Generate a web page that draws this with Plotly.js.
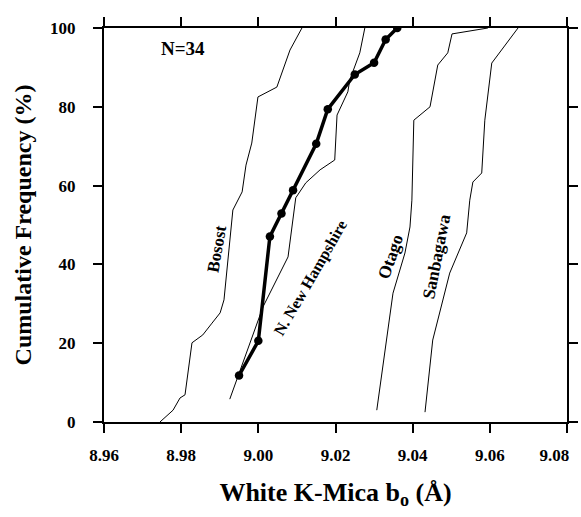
<!DOCTYPE html>
<html>
<head>
<meta charset="utf-8">
<script src="https://cdn.plot.ly/plotly-3.0.1.min.js"></script>
<style>html,body{margin:0;padding:0;background:#fff;}#chart{width:581px;height:517px;}</style>
</head>
<body>
<div id="chart"></div>
<script>
// Measured sample (thick line with markers), N=34
const sampleX = [8.995, 9.000, 9.003, 9.006, 9.009, 9.015, 9.018, 9.025, 9.030, 9.033, 9.036];
const sampleY = [11.8, 20.6, 47.1, 52.9, 58.8, 70.6, 79.4, 88.2, 91.2, 97.1, 100];

// Reference curves (thin lines)
const bosostX = [8.9745, 8.9779, 8.9797, 8.9810, 8.9828, 8.9856, 8.9880, 8.9901, 8.9911, 8.9934, 8.9958, 8.9968, 8.9983, 8.9999, 9.0048, 9.0082, 9.0113];
const bosostY = [0, 3.0, 6.1, 6.9, 20.1, 22.1, 25.1, 27.7, 31.0, 53.8, 58.4, 65.2, 70.8, 82.5, 85.0, 94.4, 100];

const nhX = [8.9926, 9.0012, 9.0077, 9.0097, 9.0123, 9.0160, 9.0198, 9.0204, 9.0232, 9.0237, 9.0263, 9.0276];
const nhY = [5.8, 29.2, 41.9, 56.9, 60.7, 64.0, 66.5, 77.9, 83.8, 86.8, 93.7, 100];

const otagoX = [9.0307, 9.0349, 9.0380, 9.0393, 9.0398, 9.0403, 9.0445, 9.0465, 9.0491, 9.0502, 9.0595];
const otagoY = [3.0, 32.7, 42.9, 49.5, 56.3, 76.6, 80.0, 90.6, 93.7, 98.5, 100];

const sanbX = [9.0432, 9.0452, 9.0496, 9.0540, 9.0548, 9.0556, 9.0579, 9.0587, 9.0605, 9.0644, 9.0673];
const sanbY = [2.5, 20.8, 37.8, 48.0, 56.3, 60.9, 63.2, 76.6, 91.1, 96.2, 100];

// Curve labels
const labelText = ["Bosost", "N. New Hampshire", "Otago", "Sanbagawa"];
const labelX = [8.9893, 9.0136, 9.0341, 9.0460];
const labelY = [44, 36.5, 42, 42];
const labelAngle = [-80, -60, -71, -79];
const labelSize = [17, 16, 17.5, 17.5];

const xTicks = [8.96, 8.98, 9.00, 9.02, 9.04, 9.06, 9.08];
const xTickText = ["8.96", "8.98", "9.00", "9.02", "9.04", "9.06", "9.08"];
const yTicks = [0, 20, 40, 60, 80, 100];
const yTickText = ["0", "20", "40", "60", "80", "100"];

const FONT = "'Liberation Serif', 'Times New Roman', serif";
const NB = '\u00a0';

const thin = {color: '#000', width: 1};
const traces = [
  {x: bosostX, y: bosostY, mode: 'lines', line: thin, hoverinfo: 'skip'},
  {x: nhX, y: nhY, mode: 'lines', line: thin, hoverinfo: 'skip'},
  {x: otagoX, y: otagoY, mode: 'lines', line: thin, hoverinfo: 'skip'},
  {x: sanbX, y: sanbY, mode: 'lines', line: thin, hoverinfo: 'skip'},
  {x: sampleX, y: sampleY, mode: 'lines+markers', line: {color: '#000', width: 3.5},
   marker: {color: '#000', size: 8.5}}
];

const annotations = labelText.map((t, i) => ({
  x: labelX[i], y: labelY[i], xref: 'x', yref: 'y', text: '<b>' + t + '</b>',
  textangle: labelAngle[i], showarrow: false, xanchor: 'center', yanchor: 'middle',
  font: {family: FONT, size: labelSize[i], color: '#000'}
}));
annotations.push({
  xref: 'paper', yref: 'paper', x: 0.171, y: 0.947, xanchor: 'center', yanchor: 'middle',
  text: '<b>N=34</b>', showarrow: false,
  font: {family: FONT, size: 19, color: '#000'}
});

const axisCommon = {
  showgrid: false, zeroline: false, showline: true, linecolor: '#000', linewidth: 2,
  mirror: 'ticks', ticks: 'outside', ticklen: 9, tickwidth: 2, tickcolor: '#000',
  tickfont: {family: FONT, size: 17, color: '#000'}, ticklabeloverflow: 'allow'
};

const layout = {
  width: 581, height: 517,
  margin: {l: 104, r: 14, t: 28, b: 95},
  paper_bgcolor: '#fff', plot_bgcolor: '#fff',
  showlegend: false,
  font: {family: FONT, color: '#000'},
  xaxis: Object.assign({}, axisCommon, {
    range: [8.96, 9.08], tickvals: xTicks,
    ticktext: xTickText.map((s, i) => '<b>' + s + '</b>' + (i === xTickText.length - 1 ? NB.repeat(6) : '')),
    ticklabelstandoff: 8, automargin: false,
    title: {text: '<b>White K-Mica b<sub>o</sub> (Å)</b>', font: {family: FONT, size: 26, color: '#000'}, standoff: 18}
  }),
  yaxis: Object.assign({}, axisCommon, {
    range: [0, 100], tickvals: yTicks, ticktext: yTickText.map(s => '<b>' + s + '</b>'),
    ticklabelstandoff: 14, automargin: false,
    title: {text: '<b>Cumulative Frequency (%)</b>', font: {family: FONT, size: 24, color: '#000'}, standoff: 12}
  }),
  annotations: annotations
};

Plotly.newPlot('chart', traces, layout, {displayModeBar: false, staticPlot: true});
</script>
</body>
</html>
